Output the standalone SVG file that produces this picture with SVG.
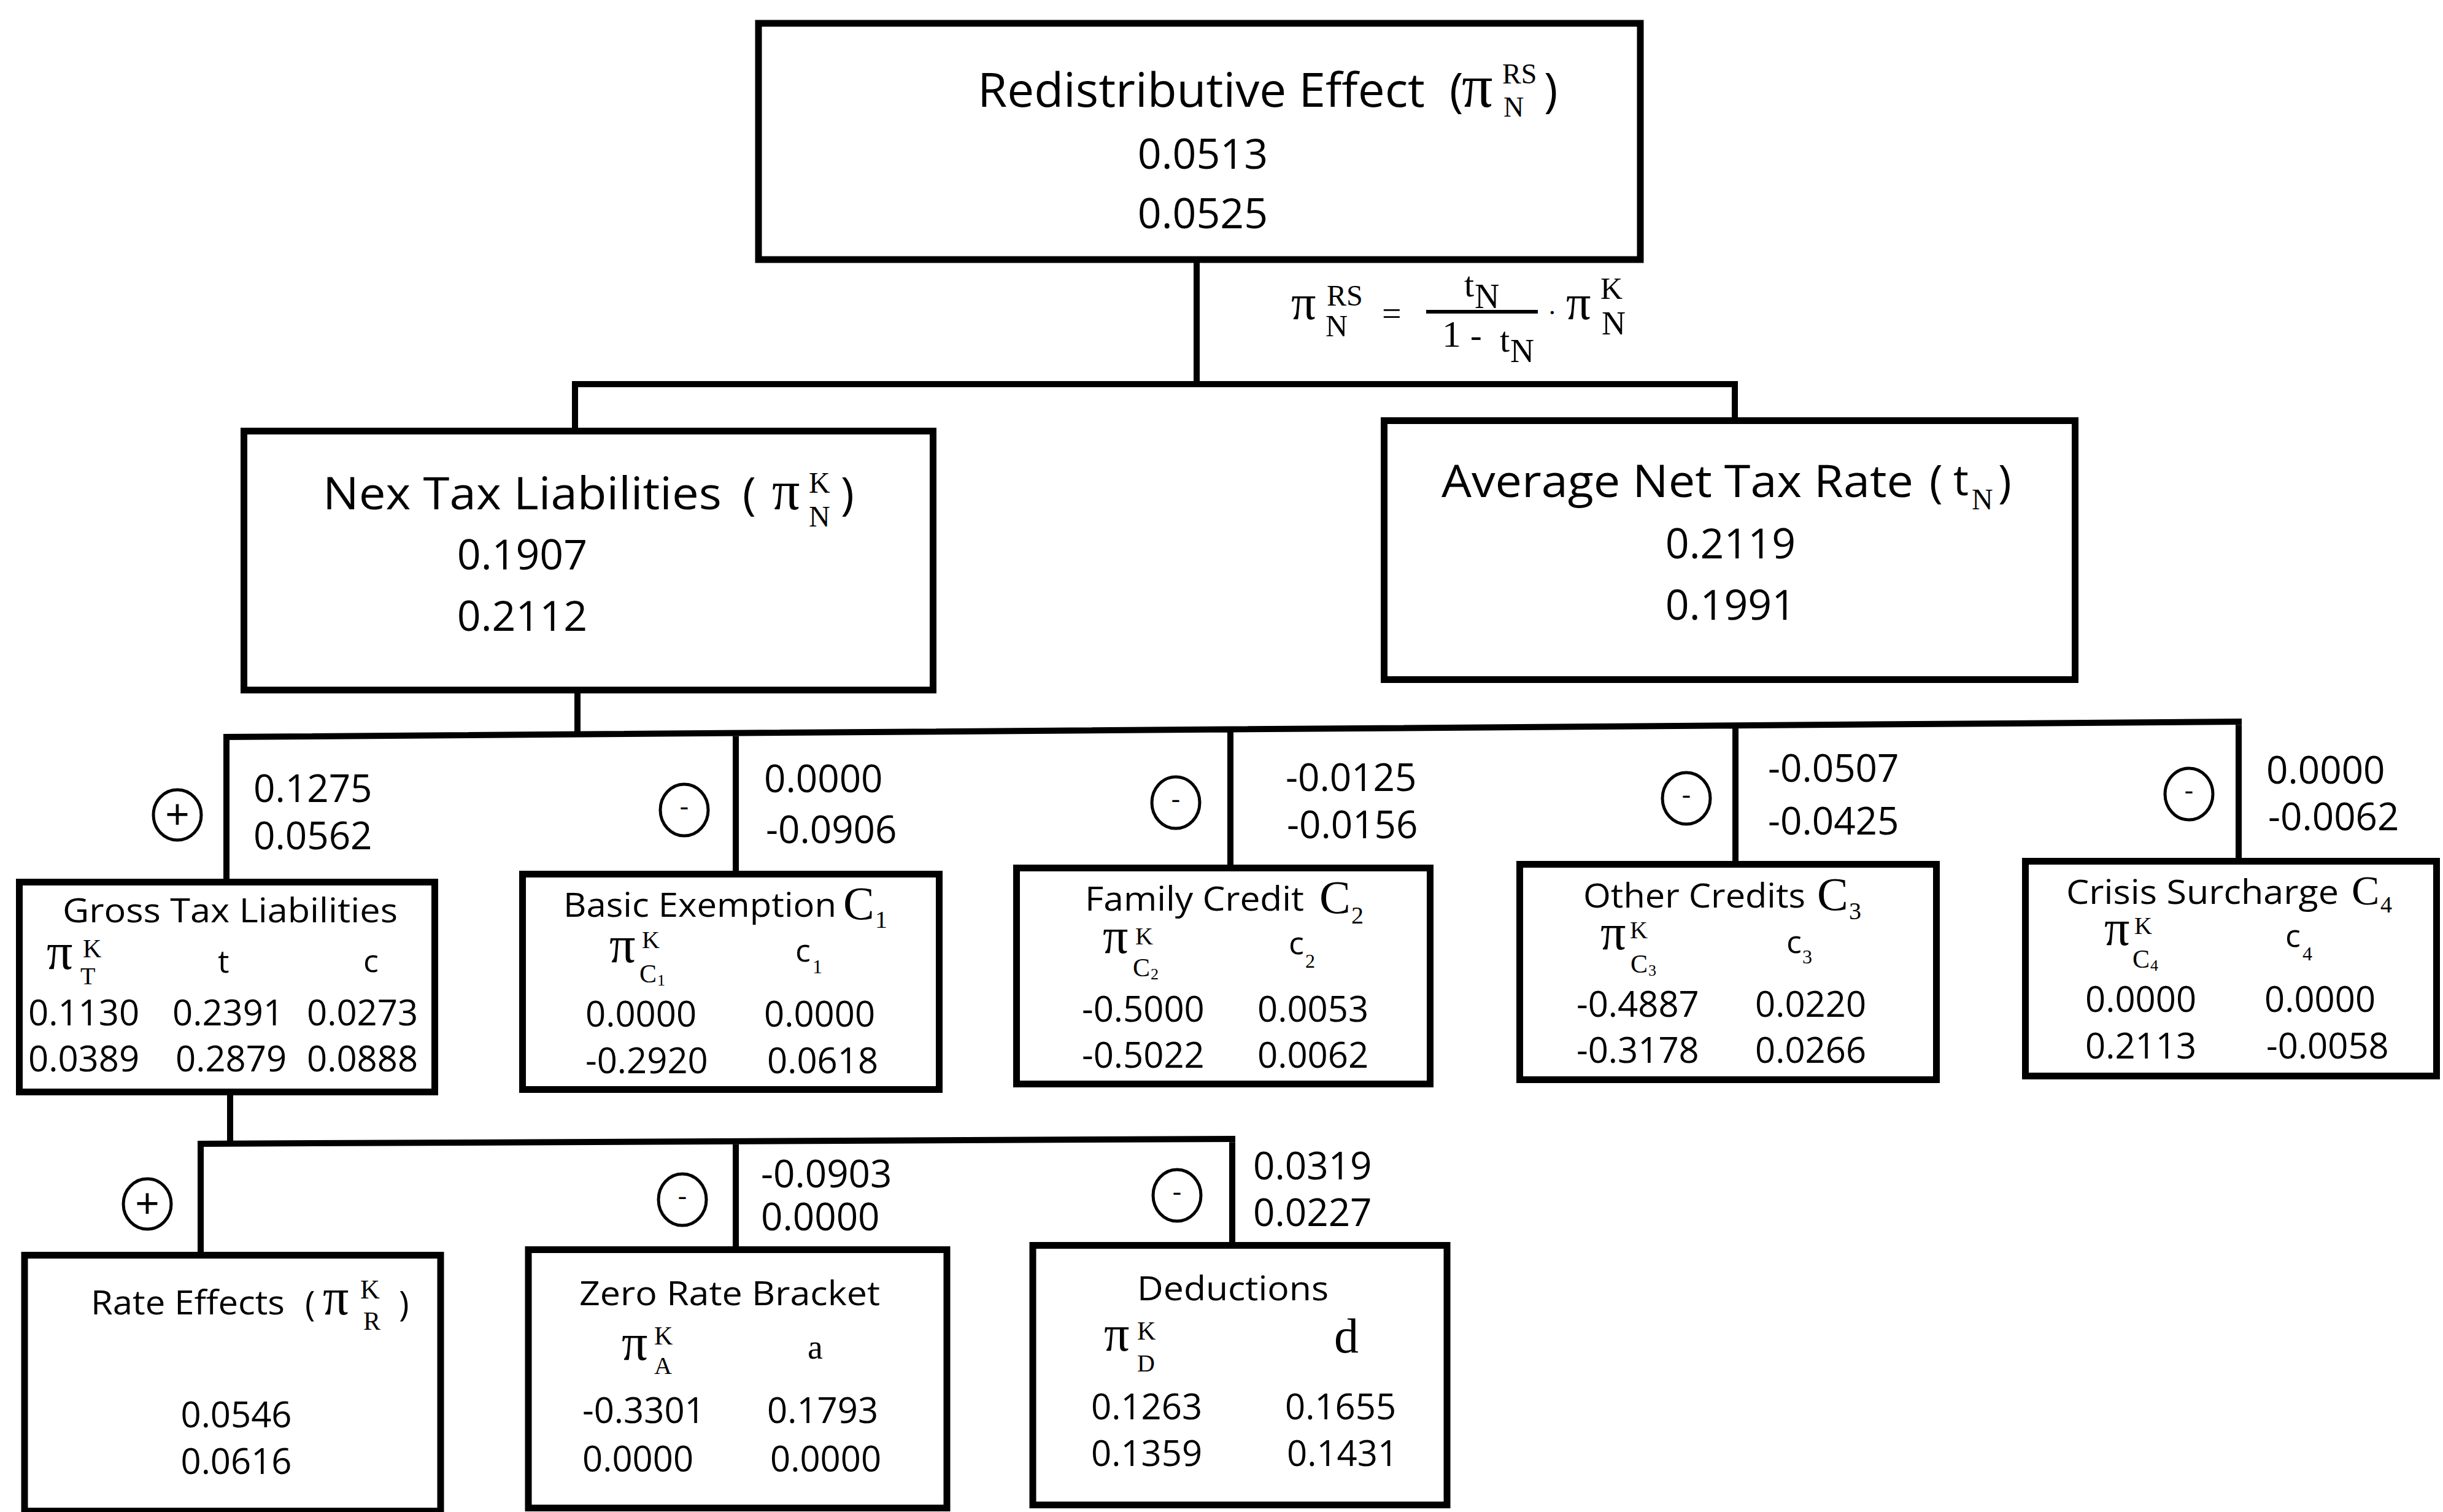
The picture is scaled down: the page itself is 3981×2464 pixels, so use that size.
<svg xmlns="http://www.w3.org/2000/svg" width="3981" height="2464" viewBox="0 0 3981 2464">
<style>
.box{fill:#fff;stroke:#000;stroke-width:11}
.conn{fill:none;stroke:#000;stroke-width:10}
.sign{fill:none;stroke:#000;stroke-width:5}
text{fill:#000}
.s{font-family:"Open Sans","Liberation Sans",sans-serif}
.m{font-family:"Liberation Serif","DejaVu Serif",serif}
.t1{font-size:76px}
.t2{font-size:74px}
.t3{font-size:54px}
.n1{font-size:68px}
.n3{font-size:58px}
.nb{font-size:62px}
.c{text-anchor:middle}
</style>
<rect width="3981" height="2464" fill="#fff"/>
<g id="connectors">
<path class="conn" d="M1950 423 V626 M932 626 H2832 M937 626 V703 M2827 626 V686"/>
<path class="conn" d="M941 1125 V1197 M364 1201 L3653 1176 M369 1201 V1437 M1199 1195 V1424 M2005 1188 V1414 M2828 1182 V1408 M3648 1176 V1403"/>
<path class="conn" d="M375 1780 V1864 M322 1864 L2013 1856 M327 1864 V2045 M1199 1860 V2036 M2008 1856 V2029"/>
</g>
<g id="formula">
<line x1="2324" y1="508" x2="2506" y2="508" stroke="#000" stroke-width="6"/>
<text class="m"><tspan x="2104" y="520" font-size="80">π</tspan><tspan x="2162" y="498" font-size="48">RS</tspan><tspan x="2160" y="548" font-size="50">N</tspan><tspan x="2252" y="530" font-size="56">=</tspan><tspan x="2386" y="483" font-size="58">t</tspan><tspan x="2403" y="502" font-size="56">N</tspan><tspan x="2350" y="565" font-size="62">1</tspan><tspan x="2396" y="565" font-size="56">-</tspan><tspan x="2444" y="573" font-size="58">t</tspan><tspan x="2461" y="590" font-size="54">N</tspan><tspan x="2522" y="524" font-size="44">·</tspan><tspan x="2552" y="520" font-size="80">π</tspan><tspan x="2608" y="487" font-size="50">K</tspan><tspan x="2610" y="545" font-size="54">N</tspan></text>
</g>
<g id="signs">
<g id="sign-gross"><ellipse class="sign" cx="289" cy="1328" rx="39" ry="41"/><text class="s c" x="289" y="1352" font-size="70">+</text></g>
<g id="sign-basic"><ellipse class="sign" cx="1115" cy="1320" rx="39" ry="42"/><text class="s c" x="1115" y="1330" font-size="46">-</text></g>
<g id="sign-family"><ellipse class="sign" cx="1916" cy="1308" rx="39" ry="42"/><text class="s c" x="1916" y="1318" font-size="46">-</text></g>
<g id="sign-other"><ellipse class="sign" cx="2748" cy="1301" rx="39" ry="42"/><text class="s c" x="2748" y="1311" font-size="46">-</text></g>
<g id="sign-crisis"><ellipse class="sign" cx="3567" cy="1294" rx="39" ry="42"/><text class="s c" x="3567" y="1304" font-size="46">-</text></g>
<g id="sign-rate"><ellipse class="sign" cx="240" cy="1962" rx="39" ry="41"/><text class="s c" x="240" y="1986" font-size="70">+</text></g>
<g id="sign-zero"><ellipse class="sign" cx="1112" cy="1955" rx="39" ry="42"/><text class="s c" x="1112" y="1965" font-size="46">-</text></g>
<g id="sign-ded"><ellipse class="sign" cx="1918" cy="1948" rx="39" ry="42"/><text class="s c" x="1918" y="1958" font-size="46">-</text></g>
</g>
<g id="branch-values" class="s nb">
<text><tspan x="413" y="1307">0.1275</tspan><tspan x="413" y="1384">0.0562</tspan></text>
<text><tspan x="1245" y="1291">0.0000</tspan><tspan x="1248" y="1374">-0.0906</tspan></text>
<text><tspan x="2095" y="1289">-0.0125</tspan><tspan x="2097" y="1366">-0.0156</tspan></text>
<text><tspan x="2881" y="1274">-0.0507</tspan><tspan x="2881" y="1360">-0.0425</tspan></text>
<text><tspan x="3693" y="1277">0.0000</tspan><tspan x="3696" y="1353">-0.0062</tspan></text>
<text><tspan x="1240" y="1935">-0.0903</tspan><tspan x="1240" y="2005">0.0000</tspan></text>
<text><tspan x="2042" y="1922">0.0319</tspan><tspan x="2042" y="1998">0.0227</tspan></text>
</g>
<g id="n-redistributive">
<rect class="box" x="1236" y="38" width="1437" height="385"/>
<text class="s t1"><tspan x="1593" y="174" textLength="729" lengthAdjust="spacingAndGlyphs">Redistributive Effect</tspan><tspan x="2362" y="174">(</tspan><tspan class="m" x="2382" y="174" font-size="100">π</tspan><tspan class="m" x="2448" y="136" font-size="46">RS</tspan><tspan class="m" x="2450" y="190" font-size="46">N</tspan><tspan x="2516" y="174">)</tspan><tspan class="n1" x="1960" y="275" text-anchor="middle">0.0513</tspan><tspan class="n1" x="1960" y="372" text-anchor="middle">0.0525</tspan></text>
</g>
<g id="n-net-tax">
<rect class="box" x="397.5" y="702.5" width="1123" height="422"/>
<text class="s t2"><tspan x="526" y="830" textLength="650" lengthAdjust="spacingAndGlyphs">Nex Tax Liabilities</tspan><tspan x="1210" y="830">(</tspan><tspan class="m" x="1258" y="830" font-size="90">π</tspan><tspan class="m" x="1318" y="803" font-size="48">K</tspan><tspan class="m" x="1318" y="858" font-size="48">N</tspan><tspan x="1370" y="830">)</tspan><tspan class="n1" x="851" y="928" text-anchor="middle">0.1907</tspan><tspan class="n1" x="851" y="1028" text-anchor="middle">0.2112</tspan></text>
</g>
<g id="n-avg-rate">
<rect class="box" x="2255.5" y="685.5" width="1126" height="422"/>
<text class="s t2"><tspan x="2349" y="810" textLength="769" lengthAdjust="spacingAndGlyphs">Average Net Tax Rate</tspan><tspan x="3144" y="810">(</tspan><tspan x="3183" y="807" font-size="70">t</tspan><tspan class="m" x="3213" y="830" font-size="48">N</tspan><tspan x="3256" y="810">)</tspan><tspan class="n1" x="2820" y="910" text-anchor="middle">0.2119</tspan><tspan class="n1" x="2820" y="1010" text-anchor="middle">0.1991</tspan></text>
</g>
<g id="n-gross">
<rect class="box" x="31.5" y="1437.5" width="677" height="342"/>
<text class="s"><tspan class="t3" x="102" y="1503" textLength="546" lengthAdjust="spacingAndGlyphs">Gross Tax Liabilities</tspan><tspan class="m" x="76" y="1579" font-size="84">π</tspan><tspan class="m" x="135" y="1560" font-size="42">K</tspan><tspan class="m" x="131" y="1604" font-size="40">T</tspan><tspan x="355" y="1585" font-size="52">t</tspan><tspan x="592" y="1584" font-size="52">c</tspan><tspan class="n3" x="46" y="1671">0.1130</tspan><tspan class="n3" x="281" y="1671">0.2391</tspan><tspan class="n3" x="500" y="1671">0.0273</tspan><tspan class="n3" x="46" y="1746">0.0389</tspan><tspan class="n3" x="286" y="1746">0.2879</tspan><tspan class="n3" x="500" y="1746">0.0888</tspan></text>
</g>
<g id="n-basic">
<rect class="box" x="851.5" y="1424.5" width="679" height="351"/>
<text class="s"><tspan class="t3" x="918" y="1494" textLength="445" lengthAdjust="spacingAndGlyphs">Basic Exemption</tspan><tspan class="m" x="1374" y="1498" font-size="76">C</tspan><tspan class="m" x="1426" y="1512" font-size="40">1</tspan><tspan class="m" x="993" y="1568" font-size="84">π</tspan><tspan class="m" x="1046" y="1545" font-size="40">K</tspan><tspan class="m" x="1042" y="1601" font-size="42">C</tspan><tspan class="m" x="1071" y="1606" font-size="26">1</tspan><tspan x="1296" y="1567" font-size="52">c</tspan><tspan class="m" x="1324" y="1586" font-size="32">1</tspan><tspan class="n3" x="954" y="1673">0.0000</tspan><tspan class="n3" x="1245" y="1673">0.0000</tspan><tspan class="n3" x="954" y="1749">-0.2920</tspan><tspan class="n3" x="1250" y="1749">0.0618</tspan></text>
</g>
<g id="n-family">
<rect class="box" x="1656.5" y="1414.5" width="674" height="352"/>
<text class="s"><tspan class="t3" x="1768" y="1484" textLength="357" lengthAdjust="spacingAndGlyphs">Family Credit</tspan><tspan class="m" x="2150" y="1488" font-size="76">C</tspan><tspan class="m" x="2202" y="1505" font-size="40">2</tspan><tspan class="m" x="1797" y="1553" font-size="82">π</tspan><tspan class="m" x="1850" y="1539" font-size="40">K</tspan><tspan class="m" x="1846" y="1591" font-size="42">C</tspan><tspan class="m" x="1875" y="1596" font-size="26">2</tspan><tspan x="2100" y="1555" font-size="52">c</tspan><tspan class="m" x="2127" y="1577" font-size="32">2</tspan><tspan class="n3" x="1763" y="1665">-0.5000</tspan><tspan class="n3" x="2049" y="1665">0.0053</tspan><tspan class="n3" x="1763" y="1740">-0.5022</tspan><tspan class="n3" x="2049" y="1740">0.0062</tspan></text>
</g>
<g id="n-other">
<rect class="box" x="2476.5" y="1408.5" width="679" height="351"/>
<text class="s"><tspan class="t3" x="2580" y="1479" textLength="362" lengthAdjust="spacingAndGlyphs">Other Credits</tspan><tspan class="m" x="2961" y="1483" font-size="76">C</tspan><tspan class="m" x="3013" y="1498" font-size="40">3</tspan><tspan class="m" x="2608" y="1547" font-size="82">π</tspan><tspan class="m" x="2656" y="1529" font-size="40">K</tspan><tspan class="m" x="2657" y="1585" font-size="42">C</tspan><tspan class="m" x="2686" y="1590" font-size="26">3</tspan><tspan x="2911" y="1553" font-size="52">c</tspan><tspan class="m" x="2937" y="1570" font-size="32">3</tspan><tspan class="n3" x="2569" y="1657">-0.4887</tspan><tspan class="n3" x="2860" y="1657">0.0220</tspan><tspan class="n3" x="2569" y="1732">-0.3178</tspan><tspan class="n3" x="2860" y="1732">0.0266</tspan></text>
</g>
<g id="n-crisis">
<rect class="box" x="3300.5" y="1403.5" width="670" height="350"/>
<text class="s"><tspan class="t3" x="3367" y="1473" textLength="444" lengthAdjust="spacingAndGlyphs">Crisis Surcharge</tspan><tspan class="m" x="3832" y="1474" font-size="68">C</tspan><tspan class="m" x="3879" y="1487" font-size="38">4</tspan><tspan class="m" x="3429" y="1540" font-size="82">π</tspan><tspan class="m" x="3478" y="1522" font-size="40">K</tspan><tspan class="m" x="3475" y="1577" font-size="42">C</tspan><tspan class="m" x="3504" y="1582" font-size="26">4</tspan><tspan x="3724" y="1543" font-size="52">c</tspan><tspan class="m" x="3752" y="1565" font-size="32">4</tspan><tspan class="n3" x="3398" y="1649">0.0000</tspan><tspan class="n3" x="3690" y="1649">0.0000</tspan><tspan class="n3" x="3398" y="1725">0.2113</tspan><tspan class="n3" x="3693" y="1725">-0.0058</tspan></text>
</g>
<g id="n-rate">
<rect class="box" x="40" y="2045.5" width="678" height="417"/>
<text class="s t3"><tspan x="148" y="2142" textLength="316" lengthAdjust="spacingAndGlyphs">Rate Effects</tspan><tspan x="497" y="2145" font-size="56">(</tspan><tspan class="m" x="526" y="2142" font-size="84">π</tspan><tspan class="m" x="587" y="2116" font-size="44">K</tspan><tspan class="m" x="592" y="2167" font-size="42">R</tspan><tspan x="650" y="2145" font-size="56">)</tspan><tspan class="n3" x="385" y="2326" text-anchor="middle">0.0546</tspan><tspan class="n3" x="385" y="2402" text-anchor="middle">0.0616</tspan></text>
</g>
<g id="n-zero">
<rect class="box" x="861" y="2036.5" width="682" height="421"/>
<text class="s"><tspan class="t3" x="944" y="2127" textLength="490" lengthAdjust="spacingAndGlyphs">Zero Rate Bracket</tspan><tspan class="m" x="1013" y="2216" font-size="84">π</tspan><tspan class="m" x="1066" y="2191" font-size="42">K</tspan><tspan class="m" x="1066" y="2239" font-size="40">A</tspan><tspan class="m" x="1316" y="2214" font-size="56">a</tspan><tspan class="n3" x="949" y="2319">-0.3301</tspan><tspan class="n3" x="1250" y="2319">0.1793</tspan><tspan class="n3" x="949" y="2398">0.0000</tspan><tspan class="n3" x="1255" y="2398">0.0000</tspan></text>
</g>
<g id="n-deductions">
<rect class="box" x="1683" y="2029.5" width="675" height="423"/>
<text class="s"><tspan class="t3" x="1853" y="2119" textLength="312" lengthAdjust="spacingAndGlyphs">Deductions</tspan><tspan class="m" x="1799" y="2201" font-size="82">π</tspan><tspan class="m" x="1853" y="2183" font-size="42">K</tspan><tspan class="m" x="1853" y="2235" font-size="40">D</tspan><tspan class="m" x="2174" y="2204" font-size="80">d</tspan><tspan class="n3" x="1778" y="2313">0.1263</tspan><tspan class="n3" x="2094" y="2313">0.1655</tspan><tspan class="n3" x="1778" y="2389">0.1359</tspan><tspan class="n3" x="2097" y="2389">0.1431</tspan></text>
</g>
</svg>
